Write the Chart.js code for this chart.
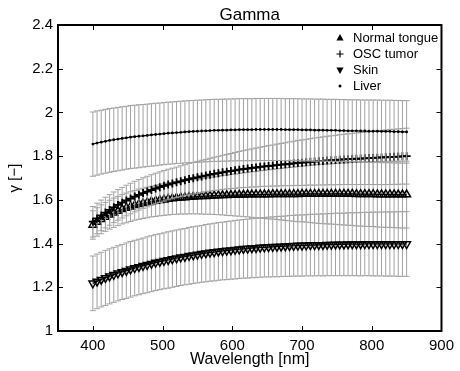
<!DOCTYPE html>
<html>
<head>
<meta charset="utf-8">
<title>Gamma</title>
<script src="https://cdn.jsdelivr.net/npm/chart.js@4.4.1/dist/chart.umd.min.js"></script>
<style>
  html, body { margin: 0; padding: 0; background: #fff; }
  #gammaChart { display: block; }
</style>
</head>
<body>
<canvas id="gammaChart" width="460" height="371"></canvas>
<script>
// gamma.js
// Gamma vs wavelength for four tissue types, with +/- error bars (MATLAB look)

// --- Data ---

const wavelengths = [
    400, 406, 412, 418, 424, 430, 436, 442, 448, 454,
    460, 466, 472, 478, 484, 490, 496, 502, 508, 514,
    520, 526, 532, 538, 544, 550, 556, 562, 568, 574,
    580, 586, 592, 598, 604, 610, 616, 622, 628, 634,
    640, 646, 652, 658, 664, 670, 676, 682, 688, 694,
    700, 706, 712, 718, 724, 730, 736, 742, 748, 754,
    760, 766, 772, 778, 784, 790, 796, 802, 808, 814,
    820, 826, 832, 838, 844, 850
];

const normalTongue = [
    1.485, 1.499, 1.511, 1.522, 1.532, 1.541, 1.549, 1.557, 1.563, 1.569,
    1.575, 1.580, 1.584, 1.588, 1.592, 1.595, 1.598, 1.601, 1.604, 1.606,
    1.608, 1.610, 1.611, 1.613, 1.614, 1.615, 1.616, 1.617, 1.618, 1.619,
    1.620, 1.621, 1.621, 1.622, 1.622, 1.623, 1.623, 1.624, 1.624, 1.624,
    1.625, 1.625, 1.625, 1.626, 1.626, 1.626, 1.626, 1.626, 1.626, 1.626,
    1.627, 1.627, 1.627, 1.627, 1.627, 1.627, 1.627, 1.627, 1.627, 1.627,
    1.627, 1.627, 1.627, 1.626, 1.626, 1.626, 1.626, 1.626, 1.625, 1.625,
    1.625, 1.625, 1.625, 1.624, 1.624, 1.624
];
const normalTongueErr = [
    0.065, 0.065, 0.066, 0.066, 0.066, 0.067, 0.067, 0.067, 0.068, 0.068,
    0.068, 0.069, 0.069, 0.070, 0.070, 0.071, 0.071, 0.072, 0.073, 0.073,
    0.074, 0.075, 0.076, 0.077, 0.078, 0.079, 0.081, 0.083, 0.084, 0.086,
    0.088, 0.090, 0.092, 0.094, 0.096, 0.098, 0.100, 0.102, 0.104, 0.106,
    0.108, 0.110, 0.112, 0.114, 0.116, 0.118, 0.120, 0.122, 0.124, 0.126,
    0.127, 0.129, 0.131, 0.133, 0.135, 0.136, 0.137, 0.138, 0.139, 0.141,
    0.142, 0.143, 0.144, 0.145, 0.146, 0.147, 0.148, 0.148, 0.149, 0.150,
    0.151, 0.151, 0.152, 0.152, 0.153, 0.153
];

const oscTumor = [
    1.500, 1.515, 1.529, 1.542, 1.554, 1.566, 1.577, 1.587, 1.597, 1.606,
    1.615, 1.623, 1.631, 1.638, 1.645, 1.652, 1.658, 1.664, 1.670, 1.675,
    1.680, 1.685, 1.690, 1.695, 1.699, 1.703, 1.707, 1.711, 1.715, 1.719,
    1.722, 1.726, 1.729, 1.732, 1.735, 1.738, 1.741, 1.743, 1.746, 1.748,
    1.751, 1.753, 1.755, 1.757, 1.759, 1.761, 1.763, 1.765, 1.767, 1.769,
    1.770, 1.772, 1.774, 1.775, 1.777, 1.778, 1.780, 1.781, 1.782, 1.784,
    1.785, 1.786, 1.787, 1.788, 1.789, 1.790, 1.791, 1.792, 1.793, 1.794,
    1.795, 1.796, 1.797, 1.798, 1.799, 1.800
];
const oscTumorErr = [
    0.070, 0.070, 0.070, 0.070, 0.070, 0.070, 0.070, 0.070, 0.070, 0.070,
    0.070, 0.070, 0.070, 0.070, 0.070, 0.070, 0.070, 0.070, 0.070, 0.070,
    0.070, 0.071, 0.071, 0.072, 0.072, 0.073, 0.074, 0.074, 0.075, 0.076,
    0.077, 0.078, 0.079, 0.080, 0.082, 0.083, 0.084, 0.086, 0.087, 0.089,
    0.090, 0.091, 0.093, 0.094, 0.096, 0.097, 0.098, 0.100, 0.101, 0.103,
    0.104, 0.105, 0.106, 0.108, 0.109, 0.110, 0.111, 0.112, 0.113, 0.114,
    0.115, 0.116, 0.117, 0.118, 0.119, 0.120, 0.121, 0.122, 0.123, 0.124,
    0.125, 0.126, 0.126, 0.127, 0.127, 0.128
];

const skin = [
    1.218, 1.227, 1.235, 1.243, 1.250, 1.257, 1.264, 1.270, 1.276, 1.282,
    1.288, 1.293, 1.298, 1.303, 1.308, 1.313, 1.317, 1.321, 1.325, 1.329,
    1.333, 1.337, 1.340, 1.344, 1.347, 1.350, 1.353, 1.356, 1.359, 1.361,
    1.364, 1.366, 1.368, 1.370, 1.372, 1.374, 1.376, 1.377, 1.379, 1.380,
    1.382, 1.383, 1.384, 1.385, 1.386, 1.387, 1.388, 1.389, 1.390, 1.391,
    1.391, 1.392, 1.393, 1.393, 1.394, 1.394, 1.395, 1.395, 1.396, 1.396,
    1.396, 1.397, 1.397, 1.397, 1.397, 1.398, 1.398, 1.398, 1.398, 1.398,
    1.398, 1.398, 1.398, 1.398, 1.398, 1.398
];
const skinErr = [
    0.125, 0.125, 0.125, 0.126, 0.126, 0.126, 0.126, 0.126, 0.127, 0.127,
    0.127, 0.127, 0.127, 0.128, 0.128, 0.128, 0.128, 0.128, 0.129, 0.129,
    0.129, 0.129, 0.129, 0.130, 0.130, 0.130, 0.130, 0.131, 0.131, 0.132,
    0.132, 0.132, 0.133, 0.133, 0.134, 0.134, 0.134, 0.135, 0.135, 0.136,
    0.136, 0.136, 0.137, 0.137, 0.138, 0.138, 0.138, 0.139, 0.139, 0.140,
    0.140, 0.140, 0.141, 0.141, 0.141, 0.142, 0.142, 0.142, 0.143, 0.143,
    0.143, 0.144, 0.144, 0.144, 0.145, 0.145, 0.145, 0.146, 0.146, 0.146,
    0.147, 0.147, 0.147, 0.148, 0.148, 0.148
];

const liver = [
    1.855, 1.860, 1.864, 1.868, 1.872, 1.875, 1.878, 1.881, 1.884, 1.887,
    1.889, 1.891, 1.893, 1.895, 1.897, 1.899, 1.901, 1.903, 1.905, 1.906,
    1.908, 1.909, 1.911, 1.912, 1.913, 1.914, 1.915, 1.916, 1.917, 1.918,
    1.918, 1.919, 1.919, 1.920, 1.920, 1.921, 1.921, 1.921, 1.921, 1.922,
    1.922, 1.922, 1.922, 1.922, 1.922, 1.922, 1.921, 1.921, 1.921, 1.921,
    1.920, 1.920, 1.920, 1.919, 1.919, 1.919, 1.918, 1.918, 1.918, 1.917,
    1.917, 1.916, 1.916, 1.916, 1.915, 1.915, 1.914, 1.914, 1.914, 1.913,
    1.913, 1.913, 1.912, 1.912, 1.911, 1.911
];
const liverErr = [
    0.147, 0.147, 0.146, 0.146, 0.146, 0.145, 0.145, 0.145, 0.144, 0.144,
    0.144, 0.144, 0.143, 0.143, 0.143, 0.143, 0.142, 0.142, 0.142, 0.142,
    0.142, 0.142, 0.142, 0.142, 0.142, 0.142, 0.142, 0.142, 0.142, 0.142,
    0.142, 0.142, 0.142, 0.142, 0.142, 0.142, 0.142, 0.142, 0.142, 0.142,
    0.142, 0.142, 0.142, 0.142, 0.142, 0.142, 0.142, 0.142, 0.142, 0.142,
    0.142, 0.142, 0.142, 0.142, 0.142, 0.142, 0.142, 0.142, 0.142, 0.142,
    0.142, 0.142, 0.142, 0.142, 0.142, 0.142, 0.143, 0.143, 0.143, 0.143,
    0.143, 0.143, 0.143, 0.143, 0.143, 0.143
];

const seriesLabels = ['Normal tongue', 'OSC tumor', 'Skin', 'Liver'];
const xTicks = [400, 500, 600, 700, 800, 900];
const yTicks = [1, 1.2, 1.4, 1.6, 1.8, 2, 2.2, 2.4];

// --- Look ---

const FONT = '"Liberation Sans", Arial, Helvetica, sans-serif';
const BAR_COLOR = '#a2a2a2';
const CAP_HALF = 3;
const TICK_LEN = 5;

Chart.defaults.font.family = FONT;
Chart.defaults.color = '#000';

function toPoints(values) {
    return values.map((v, i) => ({ x: wavelengths[i], y: v }));
}

// --- Error bars, drawn just before each series so later series sit on top ---

const errorBarPlugin = {
    id: 'errorBars',
    beforeDatasetDraw(chart, args) {
        const ds = chart.data.datasets[args.index];
        if (!ds.err) return;
        const { ctx, chartArea } = chart;
        const xs = chart.scales.x;
        const ys = chart.scales.y;
        ctx.save();
        ctx.beginPath();
        ctx.rect(chartArea.left, chartArea.top, chartArea.width, chartArea.height);
        ctx.clip();
        ctx.strokeStyle = BAR_COLOR;
        ctx.lineWidth = 1;
        ctx.beginPath();
        ds.data.forEach((p, i) => {
            const px = xs.getPixelForValue(p.x);
            const top = ys.getPixelForValue(p.y + ds.err[i]);
            const bot = ys.getPixelForValue(p.y - ds.err[i]);
            ctx.moveTo(px, top);
            ctx.lineTo(px, bot);
            ctx.moveTo(px - CAP_HALF, top);
            ctx.lineTo(px + CAP_HALF, top);
            ctx.moveTo(px - CAP_HALF, bot);
            ctx.lineTo(px + CAP_HALF, bot);
        });
        ctx.stroke();
        ctx.restore();
    }
};

// --- Legend marker shapes ---

function drawMarker(ctx, kind, x, y) {
    ctx.beginPath();
    if (kind === 'up') {
        ctx.moveTo(x, y - 4);
        ctx.lineTo(x + 3.6, y + 2.5);
        ctx.lineTo(x - 3.6, y + 2.5);
        ctx.closePath();
        ctx.fill();
    } else if (kind === 'down') {
        ctx.moveTo(x, y + 4);
        ctx.lineTo(x + 3.6, y - 2.5);
        ctx.lineTo(x - 3.6, y - 2.5);
        ctx.closePath();
        ctx.fill();
    } else if (kind === 'plus') {
        ctx.lineWidth = 1.2;
        ctx.moveTo(x - 3.5, y);
        ctx.lineTo(x + 3.5, y);
        ctx.moveTo(x, y - 3.5);
        ctx.lineTo(x, y + 3.5);
        ctx.stroke();
    } else {
        ctx.arc(x, y, 1.5, 0, Math.PI * 2);
        ctx.fill();
    }
}

// --- Frame: box, inward ticks, title, axis labels, legend ---

const framePlugin = {
    id: 'matlabFrame',
    afterDraw(chart) {
        const { ctx, chartArea } = chart;
        const { left, right, top, bottom } = chartArea;
        const xs = chart.scales.x;
        const ys = chart.scales.y;
        ctx.save();

        // inward tick marks on all four sides
        ctx.strokeStyle = '#000';
        ctx.lineWidth = 1;
        ctx.beginPath();
        xTicks.forEach(v => {
            const px = Math.round(xs.getPixelForValue(v)) + 0.5;
            ctx.moveTo(px, bottom);
            ctx.lineTo(px, bottom - TICK_LEN);
            ctx.moveTo(px, top);
            ctx.lineTo(px, top + TICK_LEN);
        });
        yTicks.forEach(v => {
            const py = Math.round(ys.getPixelForValue(v)) + 0.5;
            ctx.moveTo(left, py);
            ctx.lineTo(left + TICK_LEN, py);
            ctx.moveTo(right, py);
            ctx.lineTo(right - TICK_LEN, py);
        });
        ctx.stroke();

        // axes box
        ctx.lineWidth = 2;
        ctx.strokeRect(left, top, right - left, bottom - top);

        ctx.fillStyle = '#000';
        ctx.textBaseline = 'middle';

        // title
        ctx.textAlign = 'center';
        ctx.font = '17px ' + FONT;
        ctx.fillText('Gamma', (left + right) / 2, 15);

        // x label
        ctx.font = '16px ' + FONT;
        ctx.fillText('Wavelength [nm]', (left + right) / 2, 360);

        // y label
        ctx.save();
        ctx.translate(15, (top + bottom) / 2);
        ctx.rotate(-Math.PI / 2);
        ctx.font = '15px ' + FONT;
        ctx.fillText('\u03B3 [\u2212]', 0, 0);
        ctx.restore();

        // legend
        const kinds = ['up', 'plus', 'down', 'dot'];
        ctx.textAlign = 'left';
        ctx.font = '13px ' + FONT;
        seriesLabels.forEach((label, i) => {
            const ly = 38 + i * 16;
            ctx.fillStyle = '#000';
            ctx.strokeStyle = '#000';
            drawMarker(ctx, kinds[i], 340, ly);
            ctx.fillText(label, 353, ly);
        });

        ctx.restore();
    }
};

// --- Chart ---

const ctx = document.getElementById('gammaChart').getContext('2d');

const baseSeries = {
    type: 'line',
    showLine: true,
    borderColor: '#000',
    borderWidth: 1.2,
    pointBorderColor: '#000',
    pointBackgroundColor: 'rgba(0,0,0,0)',
    pointHoverRadius: 0,
    fill: false,
    tension: 0
};

const gammaChart = new Chart(ctx, {
    type: 'line',
    data: {
        datasets: [
            Object.assign({}, baseSeries, {
                label: seriesLabels[0],
                data: toPoints(normalTongue),
                err: normalTongueErr,
                pointStyle: 'triangle',
                pointRadius: 4.5,
                pointBorderWidth: 1.5,
                order: 4
            }),
            Object.assign({}, baseSeries, {
                label: seriesLabels[1],
                data: toPoints(oscTumor),
                err: oscTumorErr,
                pointStyle: 'cross',
                pointRadius: 4,
                pointBorderWidth: 1.8,
                order: 3
            }),
            Object.assign({}, baseSeries, {
                label: seriesLabels[2],
                data: toPoints(skin),
                err: skinErr,
                pointStyle: 'triangle',
                pointRotation: 180,
                pointRadius: 4.5,
                pointBorderWidth: 1.5,
                order: 2
            }),
            Object.assign({}, baseSeries, {
                label: seriesLabels[3],
                data: toPoints(liver),
                err: liverErr,
                pointStyle: 'circle',
                pointRadius: 1.4,
                pointBorderWidth: 0,
                pointBackgroundColor: '#000',
                order: 1
            })
        ]
    },
    options: {
        responsive: false,
        animation: false,
        events: [],
        layout: {
            padding: { top: 25, right: 14, left: 0, bottom: 0 }
        },
        scales: {
            x: {
                type: 'linear',
                min: 350,
                max: 900,
                afterBuildTicks: (scale) => {
                    scale.ticks = xTicks.map(v => ({ value: v }));
                },
                afterFit: (scale) => { scale.height = 40; },
                grid: { display: false, drawTicks: false },
                border: { display: false },
                ticks: {
                    padding: 6,
                    maxRotation: 0,
                    font: { size: 15 },
                    color: '#000'
                }
            },
            y: {
                type: 'linear',
                min: 1,
                max: 2.4,
                afterBuildTicks: (scale) => {
                    scale.ticks = yTicks.map(v => ({ value: v }));
                },
                afterFit: (scale) => { scale.width = 58; },
                grid: { display: false, drawTicks: false },
                border: { display: false },
                ticks: {
                    padding: 5,
                    font: { size: 15 },
                    color: '#000',
                    callback: (v) => String(+Number(v).toFixed(1))
                }
            }
        },
        plugins: {
            legend: { display: false },
            title: { display: false },
            tooltip: { enabled: false }
        }
    },
    plugins: [errorBarPlugin, framePlugin]
});
</script>
</body>
</html>
